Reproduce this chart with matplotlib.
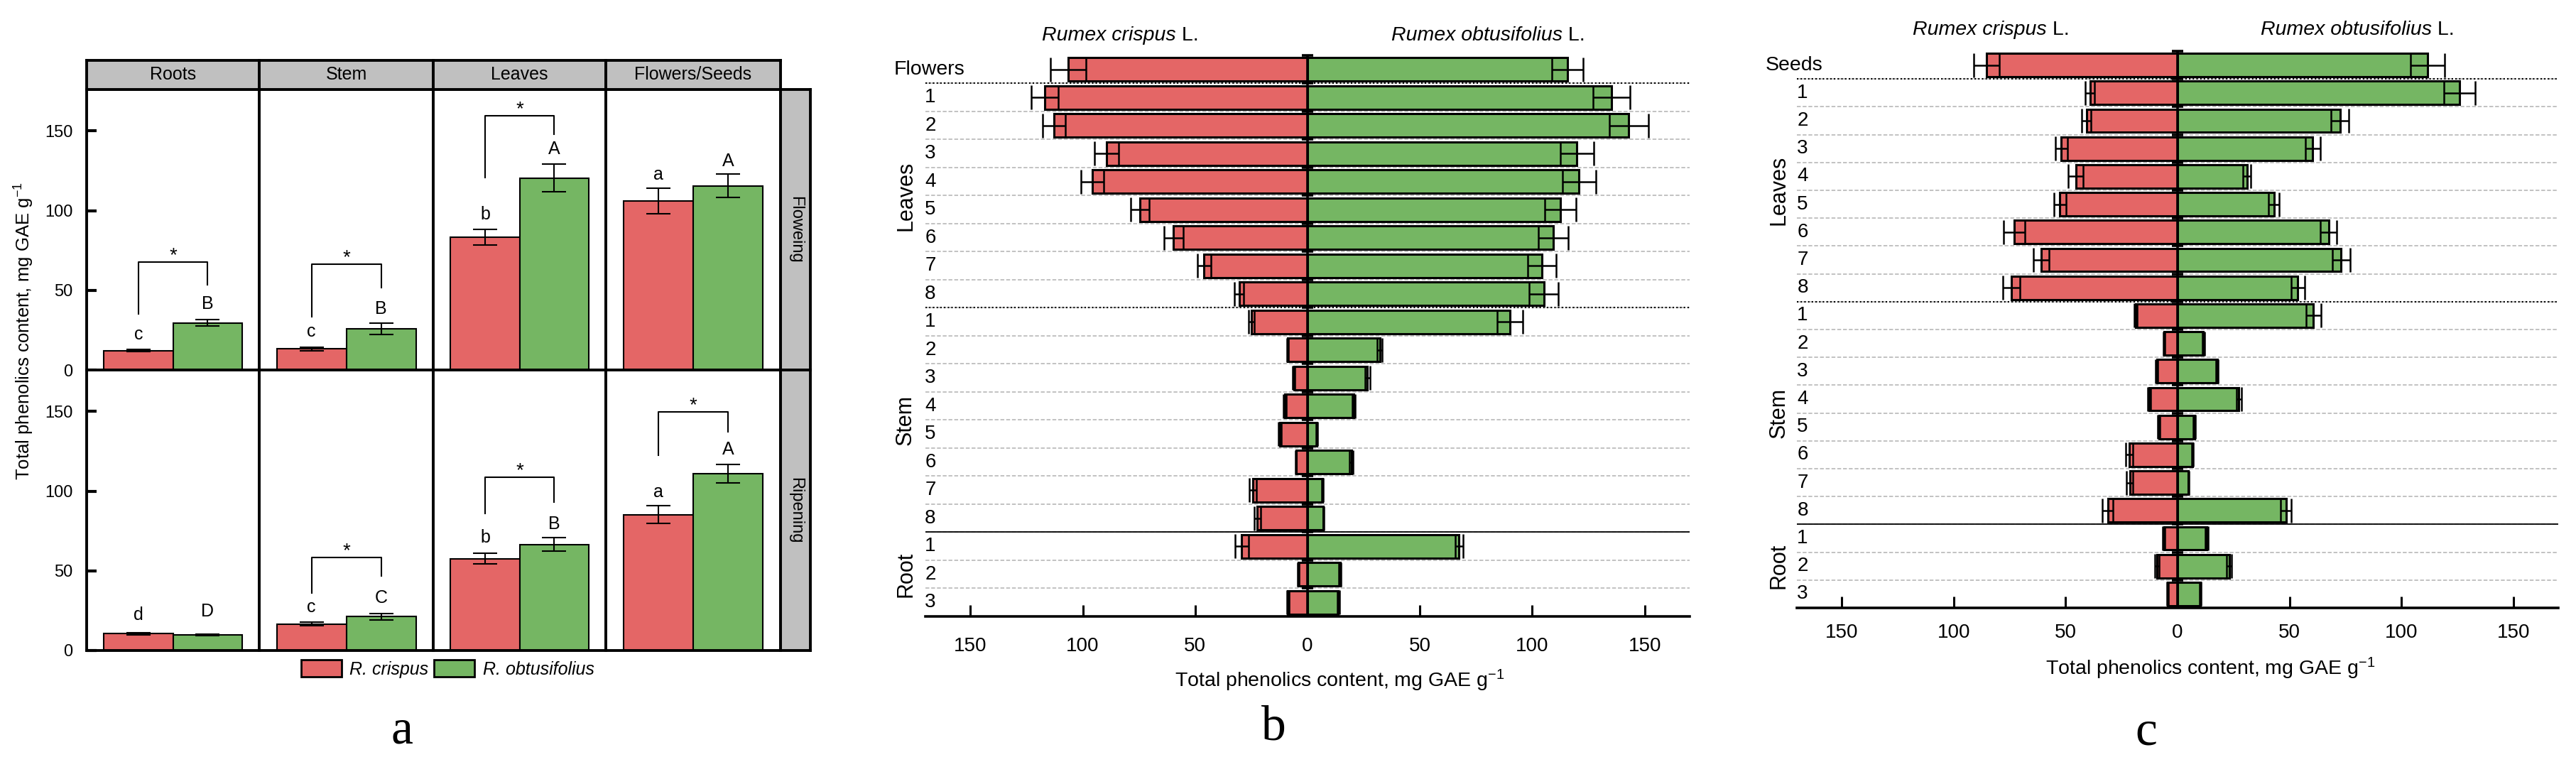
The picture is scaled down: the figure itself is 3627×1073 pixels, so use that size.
import numpy as np
import matplotlib
matplotlib.use("Agg")
import matplotlib.pyplot as plt
from matplotlib.patches import Patch
import matplotlib.transforms as mtrans

# ---------------- data: panel a ----------------
parts_a = ['Roots', 'Stem', 'Leaves', 'Flowers/Seeds']
stages_a = ['Floweing', 'Ripening']

flow_crispus = [12.2, 13.2, 83.2, 106.2]
flow_crispus_err = [0.8, 1.0, 5.0, 8.0]
flow_obtus = [29.6, 25.9, 120.4, 115.6]
flow_obtus_err = [2.0, 3.4, 8.7, 7.2]
rip_crispus = [10.6, 16.6, 57.7, 85.3]
rip_crispus_err = [0.6, 1.2, 3.5, 5.7]
rip_obtus = [9.7, 21.3, 66.6, 111.0]
rip_obtus_err = [0.5, 2.0, 4.3, 5.7]

flow_letters_crispus = ['c', 'c', 'b', 'a']
flow_letters_obtus = ['B', 'B', 'A', 'A']
rip_letters_crispus = ['d', 'c', 'b', 'a']
rip_letters_obtus = ['D', 'C', 'B', 'A']
flow_letter_y_crispus = [22.3, 23.9, 97.8, 122.5]
flow_letter_y_obtus = [41.4, 38.2, 138.4, 131.2]
rip_letter_y_crispus = [22.3, 27.1, 71.0, 99.3]
rip_letter_y_obtus = [24.7, 32.9, 79.2, 126.2]

# brackets: (left leg end, right leg end, top)
flow_brackets = [(35.0, 53.3, 67.6), (33.4, 51.7, 66.3), (120.9, 147.9, 159.4), None]
rip_brackets = [None, (36.1, 46.6, 58.4), (86.0, 93.3, 108.6), (122.7, 137.3, 149.6)]

# ---------------- data: panels b and c ----------------
groups = [('Leaves', 1, 8), ('Stem', 9, 16), ('Root', 17, 19)]
row_numbers = [str(i) for i in range(1, 9)] * 2 + ['1', '2', '3']

b_crispus = [106.5, 116.9, 112.8, 89.4, 95.7, 74.6, 59.6, 46.0, 30.4, 24.9,
             8.9, 6.1, 10.0, 12.2, 5.2, 24.3, 22.3, 29.3, 4.1, 8.7]
b_crispus_err = [8.0, 6.0, 5.0, 5.3, 5.0, 4.0, 4.3, 3.0, 2.0, 1.2,
                 0.4, 0.5, 0.6, 0.6, 0.3, 1.5, 1.5, 3.0, 0.3, 0.5]
b_obtus = [115.6, 135.3, 142.9, 119.9, 120.8, 112.6, 109.3, 104.4, 105.2, 90.1,
           32.1, 26.7, 20.5, 4.2, 19.5, 6.5, 7.1, 67.4, 14.4, 13.7]
b_obtus_err = [7.0, 8.3, 8.7, 7.4, 7.4, 7.0, 6.7, 6.3, 6.5, 5.6,
               1.0, 1.0, 0.7, 0.3, 0.7, 0.3, 0.3, 1.7, 0.5, 0.5]

c_crispus = [85.3, 39.1, 40.7, 51.9, 45.4, 52.5, 72.9, 60.9, 74.2, 18.7,
             6.1, 9.3, 12.7, 8.4, 21.6, 21.4, 31.2, 6.1, 9.3, 4.4]
c_crispus_err = [5.8, 2.0, 2.1, 2.6, 3.3, 2.7, 4.7, 3.6, 3.8, 0.6,
                 0.3, 0.5, 0.6, 0.4, 1.7, 1.5, 2.3, 0.5, 1.0, 0.3]
c_obtus = [111.6, 125.9, 72.5, 60.4, 31.0, 43.0, 67.4, 73.1, 53.7, 60.7,
           11.5, 17.7, 27.4, 7.5, 6.6, 4.8, 48.4, 13.0, 23.0, 10.1]
c_obtus_err = [7.5, 6.9, 3.9, 3.3, 1.8, 2.3, 3.7, 4.1, 3.0, 3.4,
               0.5, 0.5, 1.0, 0.4, 0.4, 0.2, 2.5, 0.5, 1.0, 0.3]

RED = '#E46666'
GREEN = '#75B663'
GREY = '#C0C0C0'
SANS = ['Liberation Sans', 'DejaVu Sans']

plt.rcParams['font.family'] = SANS
plt.rcParams['mathtext.fontset'] = 'custom'
plt.rcParams['mathtext.rm'] = 'Liberation Sans'
plt.rcParams['mathtext.it'] = 'Liberation Sans:italic'

W, H = 3627, 1073
fig = plt.figure(figsize=(W / 100, H / 100), dpi=100)


def px_axes(x0, y0, x1, y1):
    return fig.add_axes([x0 / W, 1 - y1 / H, (x1 - x0) / W, (y1 - y0) / H])


# ================= panel a =================
col_edges = [122, 365, 610, 853, 1099]
row_edges = [126, 521, 916]
FRAME = 2.8

stage_data = [
    (flow_crispus, flow_crispus_err, flow_obtus, flow_obtus_err,
     flow_letters_crispus, flow_letters_obtus, flow_letter_y_crispus,
     flow_letter_y_obtus, flow_brackets),
    (rip_crispus, rip_crispus_err, rip_obtus, rip_obtus_err,
     rip_letters_crispus, rip_letters_obtus, rip_letter_y_crispus,
     rip_letter_y_obtus, rip_brackets),
]

for r, (cr, cre, ob, obe, lcr, lob, ycr, yob, brk) in enumerate(stage_data):
    for c in range(4):
        ax = px_axes(col_edges[c], row_edges[r], col_edges[c + 1], row_edges[r + 1])
        ax.set_xlim(0, 1)
        ax.set_ylim(0, 176)
        ekw = dict(ecolor='k', elinewidth=1.5, capsize=12, capthick=1.5)
        ax.bar(0.3, cr[c], width=0.4, color=RED, edgecolor='k', lw=1.5,
               yerr=cre[c], error_kw=ekw)
        ax.bar(0.7, ob[c], width=0.4, color=GREEN, edgecolor='k', lw=1.5,
               yerr=obe[c], error_kw=ekw)
        ax.text(0.3, ycr[c], lcr[c], ha='center', va='center', fontsize=18)
        ax.text(0.7, yob[c], lob[c], ha='center', va='center', fontsize=18)
        if brk[c] is not None:
            yl, yr, yt = brk[c]
            ax.plot([0.3, 0.3, 0.7, 0.7], [yl, yt, yt, yr], color='k', lw=1.5)
            ax.text(0.5, yt + 4.0, '*', ha='center', va='center', fontsize=20)
        for s in ax.spines.values():
            s.set_linewidth(FRAME)
        ax.set_xticks([])
        if c == 0:
            ax.set_yticks([0, 50, 100, 150])
            ax.tick_params(axis='y', direction='in', length=10, width=3, pad=14,
                           labelsize=17)
        else:
            ax.set_yticks([])

# header strips
for c, part in enumerate(parts_a):
    hx = px_axes(col_edges[c], 85, col_edges[c + 1], 126)
    hx.set_facecolor(GREY)
    hx.set_xticks([])
    hx.set_yticks([])
    for s in hx.spines.values():
        s.set_linewidth(FRAME)
    hx.text(0.5, 0.5, part, ha='center', va='center', fontsize=18,
            transform=hx.transAxes)

# stage strips
for r, stage in enumerate(stages_a):
    sx = px_axes(1099, row_edges[r], 1141, row_edges[r + 1])
    sx.set_facecolor(GREY)
    sx.set_xticks([])
    sx.set_yticks([])
    for s in sx.spines.values():
        s.set_linewidth(FRAME)
    sx.text(0.5, 0.5, stage, ha='center', va='center', rotation=270, fontsize=17,
            transform=sx.transAxes)

fig.text(34 / W, 1 - 466 / H, 'Total phenolics content, mg GAE g$^{-1}$',
         rotation=90, ha='center', va='center', fontsize=18.5)

handles = [Patch(facecolor=RED, edgecolor='k', lw=2),
           Patch(facecolor=GREEN, edgecolor='k', lw=2)]
fig.legend(handles, ['R. crispus', 'R. obtusifolius'], loc='center',
           bbox_to_anchor=(630 / W, 1 - 942 / H), ncol=2, frameon=False,
           prop=dict(style='italic', size=18),
           handlelength=2.3, handleheight=1.1, handletextpad=0.45,
           columnspacing=0.3, borderaxespad=0, borderpad=0)

fig.text(566 / W, 1 - 1030 / H, 'a', ha='center', va='center', fontsize=50,
         family='Liberation Serif')


# ================= panels b and c =================
def mirror_panel(rect, first_label, crispus, crispus_err, obtus, obtus_err,
                 tick_pad, num_x, grp_x, title_y, junctions):
    ax = px_axes(*rect)
    n = len(crispus)
    y = np.arange(n)
    ax.set_xlim(-170, 170)
    ax.set_ylim(n - 0.5, -0.5)
    ekw = dict(ecolor='k', elinewidth=1.8, capsize=12, capthick=1.8)
    ax.barh(y, -np.array(crispus), height=0.84, color=RED, edgecolor='k', lw=2.2,
            xerr=crispus_err, error_kw=ekw, zorder=3)
    ax.barh(y, obtus, height=0.84, color=GREEN, edgecolor='k', lw=2.2,
            xerr=obtus_err, error_kw=ekw, zorder=3)

    bounds = np.arange(n - 1) + 0.5
    for b in bounds:
        ax.axhline(b, color='#BDBDBD', lw=1.3, ls=(0, (3, 1.5)), zorder=1)
    for b in [0.5, 8.5]:
        ax.axhline(b, color='k', lw=1.5, ls=(0, (1, 1.5)), zorder=2)
    ax.axhline(16.5, color='k', lw=1.3, zorder=2)

    ax.axvline(0, color='k', lw=2.6, zorder=5)
    ax.plot(np.zeros(n), np.append(-0.5, bounds), ls='none', marker='_', ms=11,
            mew=2.6, color='k', zorder=6, clip_on=False)

    for side in ['left', 'top', 'right']:
        ax.spines[side].set_visible(False)
    ax.spines['bottom'].set_linewidth(2.6)
    ax.set_yticks([])
    ticks = [-150, -100, -50, 0, 50, 100, 150]
    ax.set_xticks(ticks)
    ax.set_xticklabels([str(abs(t)) for t in ticks])
    ax.tick_params(axis='x', direction='in', length=11.5, width=2.2, pad=tick_pad,
                   labelsize=20)

    tr = mtrans.blended_transform_factory(ax.transAxes, ax.transData)
    ax.text(-0.041, 0, first_label, transform=tr, ha='left', va='center',
            fontsize=20.5)
    for i, lab in enumerate(row_numbers):
        ax.text(num_x, i + 1, lab, transform=tr, ha='center', va='center',
                fontsize=20)
    for name, i0, i1 in groups:
        ax.text(grp_x, (i0 + i1) / 2, name, transform=tr, ha='center', va='center',
                rotation=90, fontsize=22)

    for name, jx in zip(['Rumex crispus', 'Rumex obtusifolius'], junctions):
        ax.text(jx, title_y, name, ha='right', va='center', fontsize=20.5,
                style='italic', clip_on=False)
        ax.text(jx, title_y, ' L.', ha='left', va='center', fontsize=20.5,
                clip_on=False)
    return ax


mirror_panel((1303, 78, 2379, 868), 'Flowers', b_crispus, b_crispus_err,
             b_obtus, b_obtus_err, 21, 0.0065, -0.026, -1.21, [-58.5, 113.5])
fig.text(1886 / W, 1 - 958 / H, 'Total phenolics content, mg GAE g$^{-1}$',
         ha='center', va='center', fontsize=20.5)
fig.text(1793 / W, 1 - 1025 / H, 'b', ha='center', va='center', fontsize=50,
         family='Liberation Serif')

mirror_panel((2530, 72, 3602, 856), 'Seeds', c_crispus, c_crispus_err,
             c_obtus, c_obtus_err, 16, 0.0075, -0.024, -1.27, [-58.5, 113.5])
fig.text(3112 / W, 1 - 941 / H, 'Total phenolics content, mg GAE g$^{-1}$',
         ha='center', va='center', fontsize=20.5)
fig.text(3022 / W, 1 - 1032 / H, 'c', ha='center', va='center', fontsize=50,
         family='Liberation Serif')

fig.savefig('out.png', dpi=100)
